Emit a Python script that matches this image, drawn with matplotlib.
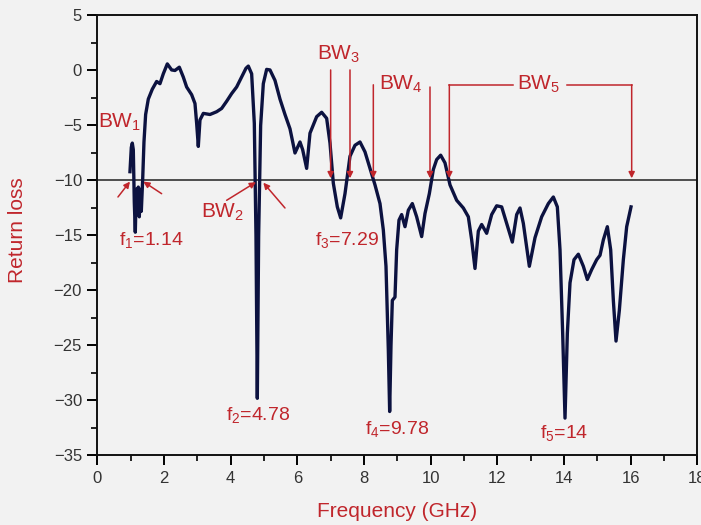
import matplotlib
matplotlib.use("Agg")
import matplotlib.pyplot as plt

# return loss trace (GHz, dB)
freq = [0.98, 1.02, 1.05, 1.08, 1.11, 1.14, 1.17, 1.20, 1.23, 1.26, 1.29, 1.32, 1.36, 1.40,
        1.45, 1.53, 1.65, 1.78, 1.88, 1.98, 2.10, 2.23, 2.33, 2.46, 2.58, 2.68, 2.83, 2.93,
        2.98, 3.03, 3.08, 3.18, 3.38, 3.58, 3.73, 3.88, 4.03, 4.18, 4.33, 4.46, 4.53, 4.63,
        4.71, 4.76, 4.80, 4.84, 4.90, 4.98, 5.08, 5.18, 5.33, 5.48, 5.63, 5.78, 5.93, 6.08,
        6.16, 6.28, 6.38, 6.58, 6.73, 6.88, 6.98, 7.08, 7.20, 7.30, 7.43, 7.58, 7.73, 7.88,
        8.03, 8.18, 8.33, 8.48, 8.58, 8.66, 8.73, 8.77, 8.81, 8.85, 8.93, 8.98, 9.05, 9.13,
        9.23, 9.33, 9.45, 9.58, 9.73, 9.83, 9.96, 10.08, 10.18, 10.30, 10.43, 10.58, 10.78,
        10.98, 11.13, 11.23, 11.33, 11.43, 11.53, 11.68, 11.83, 11.98, 12.13, 12.28, 12.45,
        12.58, 12.68, 12.78, 12.96, 13.13, 13.33, 13.53, 13.68, 13.80, 13.88, 13.96, 14.03,
        14.10, 14.18, 14.30, 14.43, 14.58, 14.70, 14.83, 14.98, 15.08, 15.18, 15.30, 15.40,
        15.48, 15.56, 15.66, 15.78, 15.88, 16.01]
rl = [-9.2, -7.0, -6.6, -7.2, -12.0, -14.7, -10.8, -13.0, -10.6, -13.3, -10.8, -12.8, -10.0, -6.5,
      -4.0, -2.6, -1.7, -1.0, -1.2, -0.3, 0.6, 0.05, 0.0, 0.3, -0.6, -1.5, -2.2, -3.0,
      -4.8, -6.9, -4.5, -3.9, -4.0, -3.75, -3.45, -2.8, -2.1, -1.5, -0.6, 0.2, 0.4, -0.3,
      -4.8, -15.0, -29.8, -15.0, -5.0, -1.2, 0.1, 0.05, -0.9, -2.6, -4.0, -5.3, -7.5, -6.5,
      -7.2, -8.9, -5.7, -4.2, -3.8, -4.35, -6.6, -10.25, -12.4, -13.4, -11.2, -7.8, -6.8, -6.5,
      -7.4, -8.9, -10.4, -12.1, -14.5, -17.8, -25.4, -31.0, -25.0, -20.9, -20.6, -16.3, -13.6, -13.1,
      -14.2, -12.7, -12.1, -13.3, -15.1, -13.0, -11.2, -9.0, -8.1, -7.7, -8.4, -10.4, -11.8,
      -12.5, -13.3, -15.4, -18.0, -14.6, -14.0, -14.8, -13.1, -12.3, -12.4, -13.9, -15.6,
      -13.1, -12.5, -13.9, -17.8, -15.2, -13.3, -12.1, -11.5, -12.4, -16.3, -23.9, -31.6,
      -23.9, -19.3, -17.2, -16.7, -17.8, -19.0, -18.1, -17.2, -16.8, -15.4, -14.2, -16.3,
      -20.9, -24.6, -21.8, -17.2, -14.2, -12.4]

# resonance labels
f_labels = ["f$_1$=1.14", "f$_2$=4.78", "f$_3$=7.29", "f$_4$=9.78", "f$_5$=14"]
f_pos = [(1.63, -15.4), (4.83, -31.3), (7.5, -15.4), (9.0, -32.6), (14.0, -33.0)]

red = "#c0262c"
bg = "#f2f2f2"

plt.rcParams['font.family'] = ['Liberation Sans', 'DejaVu Sans']
plt.rcParams['mathtext.default'] = 'regular'

fig = plt.figure(figsize=(7.01, 5.25), dpi=100, facecolor=bg)
ax = fig.add_axes([0.1388, 0.1324, 0.856, 0.8381], facecolor=bg)

ax.axhline(-10, color="#222222", lw=1.1, zorder=1)
ax.plot(freq, rl, color="#0c1240", lw=2.4, solid_joinstyle="round", zorder=3)

ax.set_xlim(0, 18)
ax.set_ylim(-35, 5)
ax.set_xticks(range(0, 19, 2))
ax.set_xticks(range(0, 19, 1), minor=True)
ax.set_yticks(range(-35, 6, 5))
ax.set_yticks([v / 2 for v in range(-70, 11, 5)], minor=True)
ax.tick_params(which="major", direction="out", length=7, width=1.4, labelsize=12,
               labelcolor="#333333", pad=4)
ax.tick_params(which="minor", direction="out", length=4, width=1.2)
for s in ax.spines.values():
    s.set_linewidth(1.4)
    s.set_color("#111111")

ax.set_xlabel("Frequency (GHz)", color=red, fontsize=15)
ax.set_ylabel("Return loss", color=red, fontsize=15)
ax.xaxis.set_label_coords(0.5, -0.105)
ax.yaxis.set_label_coords(-0.117, 0.512)

ap = dict(arrowstyle="-|>", color=red, lw=1.1, mutation_scale=9, shrinkA=0, shrinkB=0)

# BW1 / BW2 slanted arrows
ax.text(0.68, -4.7, "BW$_1$", color=red, fontsize=15, ha="center", va="center")
ax.annotate("", xy=(0.98, -10.1), xytext=(0.62, -11.5), arrowprops=ap)
ax.annotate("", xy=(1.38, -10.1), xytext=(1.93, -11.2), arrowprops=ap)
ax.text(3.75, -12.9, "BW$_2$", color=red, fontsize=15, ha="center", va="center")
ax.annotate("", xy=(4.76, -10.15), xytext=(3.88, -11.8), arrowprops=ap)
ax.annotate("", xy=(4.98, -10.2), xytext=(5.63, -12.5), arrowprops=ap)

# BW3 / BW4 vertical arrows
ax.text(7.25, 1.5, "BW$_3$", color=red, fontsize=15, ha="center", va="center")
ax.annotate("", xy=(7.0, -9.8), xytext=(7.0, 0.05), arrowprops=ap)
ax.annotate("", xy=(7.58, -9.8), xytext=(7.58, 0.05), arrowprops=ap)
ax.annotate("", xy=(8.28, -9.8), xytext=(8.28, -1.3), arrowprops=ap)
ax.text(9.1, -1.3, "BW$_4$", color=red, fontsize=15, ha="center", va="center")
ax.annotate("", xy=(9.98, -9.8), xytext=(9.98, -1.5), arrowprops=ap)

# BW5 bracket
ax.plot([10.56, 12.47], [-1.3, -1.3], color=red, lw=1.1)
ax.plot([14.1, 16.03], [-1.3, -1.3], color=red, lw=1.1)
ax.text(13.25, -1.3, "BW$_5$", color=red, fontsize=15, ha="center", va="center")
ax.annotate("", xy=(10.56, -9.8), xytext=(10.56, -1.3), arrowprops=ap)
ax.annotate("", xy=(16.03, -9.8), xytext=(16.03, -1.3), arrowprops=ap)

for lab, (fx, fy) in zip(f_labels, f_pos):
    ax.text(fx, fy, lab, color=red, fontsize=14, ha="center", va="center")

fig.savefig("out.png", dpi=100, facecolor=bg)
